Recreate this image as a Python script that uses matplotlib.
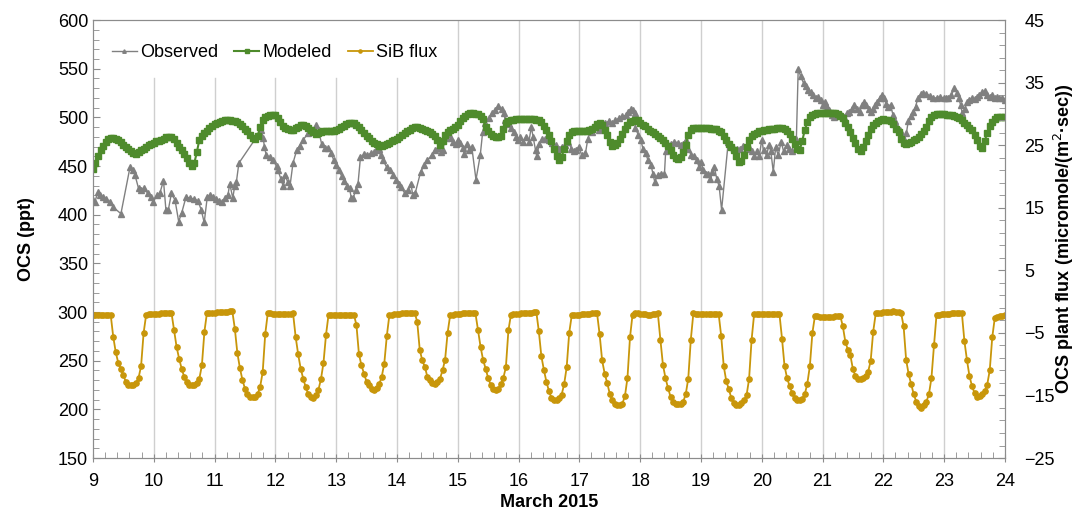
import numpy as np
import matplotlib
matplotlib.use("Agg")
import matplotlib.pyplot as plt
from matplotlib.ticker import MultipleLocator, FixedLocator

plt.rcParams['font.family'] = ['Liberation Sans', 'DejaVu Sans']

# hourly model output, one list per day (hours 0..23), March 2015
modeled_09 = [447, 453, 460, 466, 471, 475, 478, 479, 479, 478, 477, 475, 472, 470, 467, 465, 463, 462, 464, 466, 468, 470, 472, 473]
modeled_10 = [474, 475.5, 476, 477, 478, 479.5, 480, 480, 478, 474, 470, 466, 462, 458, 453, 450, 453, 464, 477, 481, 484, 486, 489, 491]
modeled_11 = [493, 494.5, 495.5, 496.5, 497, 497, 497, 496.5, 496, 495, 493.5, 491, 488.5, 486, 482, 479, 477.5, 481, 490, 497, 500, 501, 502, 502]
modeled_12 = [502, 499.5, 495, 491, 489, 488, 487, 487, 489, 490.5, 492, 492, 491, 489, 487, 484.5, 483, 483.5, 485, 486, 486.3, 486.3, 486.3, 486.5]
modeled_13 = [487, 488.5, 490, 491.5, 493, 494, 494.5, 494, 492.5, 490.5, 487, 484, 481, 478.5, 476, 474, 472.5, 470.5, 470.5, 471.5, 472.5, 474, 475.5, 477]
modeled_14 = [478, 480, 481.5, 483.5, 485.5, 487.5, 489, 490, 490, 489, 488.5, 487, 486, 484.5, 483, 481, 477, 472, 476, 482, 485, 487, 488.5, 490]
modeled_15 = [492.5, 496, 499, 501, 503, 504, 504, 503.5, 503, 501.5, 498, 490.5, 486, 483, 481, 480, 480, 481, 488, 494, 496.5, 497.2, 497.5, 498]
modeled_16 = [498, 498, 498, 498, 498, 498, 498, 497.5, 497, 495, 491.5, 487, 482, 476, 468, 460, 456, 459, 468, 476, 481.5, 485, 485.5, 486]
modeled_17 = [486, 486, 486, 486.5, 487, 488.5, 490.5, 493, 494.5, 492, 487, 481.5, 475, 471, 471.5, 474, 477.5, 482.5, 488, 492.5, 495, 496.5, 497.2, 497]
modeled_18 = [494.5, 492, 490.8, 488.5, 486.5, 484.5, 483, 481, 479, 477, 473.5, 471, 466, 461, 458, 456.8, 459, 464, 472, 481.5, 487, 489, 489.3, 489.3]
modeled_19 = [489.3, 489.3, 489, 488.6, 488.2, 488, 487.6, 486.5, 484.5, 481, 477, 473, 469.5, 466, 460, 454.4, 455.5, 461, 470, 477, 480.8, 483, 484.2, 485.5]
modeled_20 = [486.3, 486.8, 487.2, 487.6, 488, 488.5, 489, 489.3, 489.3, 488.3, 486.5, 483, 478, 473, 468, 466.5, 476, 487, 495, 500, 502.5, 503.5, 504, 504]
modeled_21 = [504, 504, 504, 504, 504, 504, 503.5, 501.5, 499, 494.5, 490.5, 485, 479, 473.5, 467.5, 465.5, 469.5, 475.5, 482, 488.5, 492, 494, 496, 497.3]
modeled_22 = [497.9, 497.6, 497.2, 496, 493, 488.5, 485, 477.5, 474, 472.2, 473.5, 475, 476.5, 478, 480, 482.5, 486, 490, 496, 500.5, 502.5, 503.5, 503.7, 503.4]
modeled_23 = [503, 502.8, 502.5, 502, 501.5, 500.6, 499, 497, 494.5, 492, 489.5, 487, 482, 476.6, 470.5, 469, 476, 483.5, 491, 495.5, 498.5, 500, 500.6, 500.6]
modeled_end = [500.6]

# hourly SiB plant flux (micromole/(m2 sec)), one list per day
sib_09 = [-2.1, -2.1, -2.1, -2.1, -2.1, -2.1, -2.1, -2.1, -5.6, -8.1, -9.8, -10.7, -11.8, -12.8, -13.3, -13.4, -13.3, -13.0, -12.2, -10.3, -5.0, -2.1, -2.0, -2.0]
sib_10 = [-2.0, -2.0, -2.0, -1.9, -1.9, -1.9, -1.9, -1.8, -4.5, -7.2, -9.1, -10.7, -12.0, -12.8, -13.3, -13.4, -13.4, -13.0, -12.3, -10.2, -4.8, -1.8, -1.8, -1.8]
sib_11 = [-1.8, -1.7, -1.7, -1.7, -1.6, -1.6, -1.5, -1.5, -4.3, -8.2, -10.6, -12.5, -13.9, -14.8, -15.2, -15.3, -15.2, -14.8, -13.6, -11.3, -5.2, -1.9, -1.9, -2.0]
sib_12 = [-2.0, -2.0, -2.0, -2.0, -2.0, -2.0, -2.0, -1.9, -5.6, -8.4, -10.7, -12.3, -13.7, -14.8, -15.3, -15.4, -15.0, -14.1, -12.4, -9.8, -5.3, -2.1, -2.1, -2.1]
sib_13 = [-2.1, -2.1, -2.1, -2.1, -2.1, -2.1, -2.1, -2.1, -3.7, -8.4, -10.2, -11.5, -12.8, -13.4, -14.0, -14.1, -13.8, -13.2, -12.0, -9.9, -5.5, -2.2, -2.1, -2.0]
sib_14 = [-2.0, -2.0, -1.9, -1.9, -1.9, -1.8, -1.8, -1.8, -3.2, -7.7, -9.4, -10.4, -12.0, -12.6, -13.0, -13.2, -12.9, -12.3, -11.0, -9.3, -5.0, -2.2, -2.1, -2.0]
sib_15 = [-2.0, -2.0, -1.9, -1.9, -1.9, -1.9, -1.9, -1.9, -4.6, -7.2, -9.3, -10.7, -12.2, -13.3, -14.0, -14.1, -13.9, -13.2, -12.2, -10.5, -4.6, -2.1, -2.0, -2.0]
sib_16 = [-2.0, -1.9, -1.9, -1.9, -1.8, -1.8, -1.7, -1.6, -4.7, -8.7, -10.9, -12.8, -14.3, -15.4, -15.8, -15.8, -15.4, -14.9, -13.2, -10.5, -5.0, -2.2, -2.1, -2.1]
sib_17 = [-2.1, -2.0, -2.0, -2.0, -2.0, -1.9, -1.9, -1.9, -5.2, -9.4, -11.5, -13.0, -14.7, -15.8, -16.3, -16.5, -16.5, -16.3, -15.1, -12.2, -5.7, -2.1, -1.9, -1.9]
sib_18 = [-2.0, -2.0, -2.0, -2.1, -2.1, -2.0, -2.0, -1.9, -6.1, -10.1, -12.2, -13.8, -15.2, -16.0, -16.3, -16.4, -16.3, -16.0, -14.8, -12.3, -6.1, -1.9, -2.0, -2.0]
sib_19 = [-2.0, -2.0, -2.0, -2.0, -2.0, -2.0, -2.0, -2.0, -5.5, -10.3, -12.7, -14.0, -15.4, -16.2, -16.5, -16.5, -16.2, -15.8, -15.0, -12.4, -6.1, -2.0, -2.0, -2.0]
sib_20 = [-2.0, -2.0, -2.0, -2.0, -2.0, -2.0, -2.0, -2.0, -5.9, -10.3, -12.2, -13.5, -14.6, -15.4, -15.8, -15.7, -15.5, -14.8, -13.1, -10.3, -5.0, -2.3, -2.3, -2.4]
sib_21 = [-2.4, -2.4, -2.4, -2.4, -2.4, -2.3, -2.3, -2.3, -3.9, -6.4, -7.7, -8.6, -10.8, -11.9, -12.4, -12.4, -12.2, -11.9, -11.2, -9.5, -4.8, -1.9, -1.8, -1.8]
sib_22 = [-1.7, -1.7, -1.6, -1.6, -1.5, -1.6, -1.7, -1.8, -3.9, -9.3, -11.6, -13.2, -14.8, -16.0, -16.7, -17.0, -16.6, -16.0, -14.8, -12.2, -7.0, -2.1, -2.1, -2.0]
sib_23 = [-2.0, -2.0, -2.0, -1.9, -1.9, -1.9, -1.8, -1.8, -6.3, -9.3, -11.9, -13.5, -14.6, -15.2, -15.1, -14.7, -14.3, -13.3, -11.0, -5.7, -2.6, -2.4, -2.3, -2.3]
sib_end = [-2.2]

# observed OCS, irregular sampling (day of March, ppt)
obs_day = [9.00, 9.03, 9.08, 9.12, 9.17, 9.22, 9.28, 9.33, 9.46, 9.61, 9.66, 9.69, 9.75, 9.79, 9.84, 9.90, 9.95, 9.99,
           10.05, 10.10, 10.16, 10.20, 10.24, 10.29, 10.35, 10.41, 10.46, 10.53, 10.60, 10.67, 10.73, 10.78, 10.83, 10.88, 10.93, 10.98,
           11.03, 11.08, 11.13, 11.17, 11.22, 11.25, 11.30, 11.33, 11.36, 11.40, 11.77, 11.80, 11.82, 11.85, 11.91, 11.96,
           12.02, 12.04, 12.09, 12.13, 12.16, 12.20, 12.24, 12.29, 12.35, 12.40, 12.46, 12.54, 12.62, 12.67, 12.71, 12.76, 12.81, 12.87, 12.92, 12.96,
           13.00, 13.04, 13.09, 13.13, 13.18, 13.22, 13.25, 13.28, 13.32, 13.36, 13.40, 13.46, 13.51, 13.57, 13.62, 13.66, 13.70, 13.73, 13.77, 13.83, 13.88, 13.94, 13.99,
           14.03, 14.07, 14.13, 14.18, 14.23, 14.26, 14.30, 14.39, 14.45, 14.50, 14.57, 14.62, 14.68, 14.73, 14.75, 14.80, 14.84, 14.89, 14.93, 14.97,
           15.00, 15.04, 15.08, 15.11, 15.15, 15.19, 15.23, 15.30, 15.37, 15.41, 15.45, 15.51, 15.56, 15.62, 15.67, 15.72, 15.76, 15.78, 15.84, 15.88, 15.92, 15.96, 15.99,
           16.03, 16.08, 16.12, 16.17, 16.21, 16.24, 16.28, 16.30, 16.34, 16.39, 16.44, 16.50, 16.55, 16.61, 16.66, 16.71, 16.77, 16.82, 16.87, 16.91, 16.95, 16.99,
           17.04, 17.10, 17.14, 17.18, 17.21, 17.26, 17.32, 17.37, 17.43, 17.48, 17.54, 17.59, 17.65, 17.70, 17.76, 17.80, 17.85, 17.88, 17.91, 17.92, 17.97,
           18.01, 18.05, 18.09, 18.13, 18.18, 18.21, 18.24, 18.29, 18.34, 18.40, 18.42, 18.46, 18.51, 18.56, 18.62, 18.67, 18.71, 18.75, 18.79, 18.84, 18.89, 18.93, 18.97,
           19.00, 19.04, 19.08, 19.12, 19.15, 19.19, 19.22, 19.26, 19.30, 19.34, 19.45, 19.48, 19.53, 19.59, 19.64, 19.70, 19.75, 19.81, 19.84, 19.88, 19.92, 19.96,
           20.00, 20.03, 20.08, 20.12, 20.15, 20.19, 20.23, 20.27, 20.32, 20.36, 20.41, 20.45, 20.49, 20.54, 20.57, 20.60, 20.64, 20.69, 20.72, 20.76, 20.81, 20.85, 20.89, 20.93, 20.97,
           21.00, 21.04, 21.07, 21.11, 21.15, 21.19, 21.25, 21.30, 21.35, 21.40, 21.44, 21.48, 21.52, 21.57, 21.61, 21.65, 21.68, 21.72, 21.76, 21.79, 21.83, 21.87, 21.90, 21.94, 21.98,
           22.01, 22.05, 22.08, 22.12, 22.16, 22.20, 22.23, 22.27, 22.31, 22.34, 22.38, 22.41, 22.45, 22.49, 22.53, 22.57, 22.62, 22.66, 22.71, 22.77, 22.82, 22.88, 22.93, 22.99,
           23.03, 23.07, 23.12, 23.17, 23.21, 23.24, 23.27, 23.30, 23.34, 23.38, 23.41, 23.46, 23.50, 23.54, 23.58, 23.62, 23.67, 23.71, 23.75, 23.79, 23.83, 23.87, 23.91, 23.96, 24.00]
obs_ppt = [415, 413, 423, 420, 418, 416, 413, 408, 401, 449, 446, 441, 427, 425, 427, 422, 418, 413,
           420, 422, 435, 405, 405, 422, 415, 393, 402, 418, 417, 416, 414, 405, 392, 418, 420, 418,
           416, 414, 413, 417, 420, 432, 417, 429, 434, 453, 487, 479, 470, 461, 459, 456,
           450, 446, 437, 429, 441, 434, 429, 453, 466, 471, 477, 484, 487, 492, 487, 473, 469, 469, 463, 456,
           451, 446, 440, 435, 430, 427, 417, 417, 425, 432, 459, 462, 461, 463, 464, 466, 467, 461, 456, 449, 446, 441, 436,
           432, 428, 422, 425, 432, 420, 422, 444, 451, 456, 461, 466, 469, 464, 466, 479, 483, 479, 475, 473,
           477, 474, 469, 462, 473, 466, 470, 436, 461, 485, 494, 499, 504, 508, 512, 509, 504, 497, 493, 489, 485, 480, 477,
           480, 475, 480, 475, 490, 480, 466, 460, 473, 478, 478, 477, 474, 472, 468, 470, 472, 475, 468, 465, 466, 470,
           461, 463, 478, 486, 485, 490, 487, 490, 494, 496, 494, 497, 499, 501, 502, 506, 509, 508, 504, 489, 482,
           477, 467, 463, 456, 451, 442, 434, 441, 442, 442, 465, 472, 473, 475, 474, 472, 473, 477, 468, 461, 460, 456, 449,
           454, 446, 442, 442, 437, 444, 449, 437, 429, 405, 475, 472, 470, 468, 468, 471, 469, 467, 465, 460, 465, 460,
           477, 466, 461, 472, 465, 444, 470, 461, 475, 465, 472, 468, 465, 475, 478, 550, 542, 535, 532, 528, 526, 523, 520, 521, 518,
           513, 516, 511, 508, 502, 500, 502, 502, 500, 504, 506, 509, 513, 509, 506, 513, 516, 513, 509, 506, 509, 513, 516, 520, 523,
           520, 514, 511, 513, 502, 496, 490, 487, 482, 478, 484, 496, 501, 506, 511, 520, 524, 525, 524, 522, 520, 520, 521, 520,
           520, 520, 523, 530, 525, 520, 513, 504, 509, 516, 518, 520, 519, 521, 523, 526, 527, 523, 521, 523, 520, 521, 520, 520, 518]

modeled_ppt = (modeled_09 + modeled_10 + modeled_11 + modeled_12 + modeled_13 + modeled_14 + modeled_15 + modeled_16
               + modeled_17 + modeled_18 + modeled_19 + modeled_20 + modeled_21 + modeled_22 + modeled_23 + modeled_end)
sib_flux = (sib_09 + sib_10 + sib_11 + sib_12 + sib_13 + sib_14 + sib_15 + sib_16
            + sib_17 + sib_18 + sib_19 + sib_20 + sib_21 + sib_22 + sib_23 + sib_end)
hour_day = 9 + np.arange(len(modeled_ppt)) / 24.0

spine_gray = '#8c8c8c'

fig = plt.figure(figsize=(10.91, 5.14), dpi=100)
ax = fig.add_axes([0.0852, 0.1089, 0.8359, 0.8521])
ax2 = ax.twinx()

ax.plot(obs_day, obs_ppt, color='#808080', lw=1.0, marker='^', ms=4.2, label='Observed')
ax.plot(hour_day, modeled_ppt, color='#4e8b2c', lw=1.5, marker='s', ms=3.8, label='Modeled')
ax2.plot(hour_day, sib_flux, color='#c8960a', lw=1.3, marker='o', ms=3.8, label='SiB flux')

ax.set_xlim(9, 24)
ax.set_ylim(150, 600)
ax2.set_ylim(-25, 45)

ax.set_xticks(range(9, 25))
ax.xaxis.set_minor_locator(MultipleLocator(0.2))
ax.set_yticks(range(150, 601, 50))
ax.yaxis.set_minor_locator(MultipleLocator(10))
ax2.set_yticks(range(-25, 46, 10))
ax2.yaxis.set_minor_locator(FixedLocator(np.arange(-25, 46, 2)))

# vertical day grid; the lines under the legend stop below it
for d in range(10, 24):
    ax.axvline(d, ymin=0, ymax=0.868 if d <= 14 else 1.0, color='#cfcfcf', lw=1.0, zorder=0.5)

for a in (ax, ax2):
    for s in a.spines.values():
        s.set_color(spine_gray)
ax.tick_params(axis='x', which='major', direction='inout', length=6, color=spine_gray, labelsize=13, pad=8)
ax.tick_params(axis='x', which='minor', direction='in', length=4, color=spine_gray)
ax.tick_params(axis='y', which='both', direction='in', color=spine_gray, labelsize=13)
ax.tick_params(axis='y', which='major', length=5)
ax.tick_params(axis='y', which='minor', length=4)
ax2.tick_params(axis='y', which='both', direction='in', color=spine_gray, labelsize=13, pad=14)
ax2.tick_params(axis='y', which='major', length=5)
ax2.tick_params(axis='y', which='minor', length=4)

ax.set_xlabel('March 2015', fontsize=13, fontweight='bold', labelpad=3)
ax.set_ylabel('OCS (ppt)', fontsize=13, fontweight='bold', labelpad=16)
ax2.set_ylabel('OCS plant flux (micromole/(m$^2$·sec))', fontsize=13, fontweight='bold', labelpad=-2)

h1, l1 = ax.get_legend_handles_labels()
h2, l2 = ax2.get_legend_handles_labels()
leg = ax2.legend(h1 + h2, l1 + l2, loc='upper left', bbox_to_anchor=(-0.006, 1.0), ncol=3, fontsize=13,
                 frameon=False, markerscale=0.6, handlelength=1.4, handletextpad=0.15, columnspacing=0.9,
                 borderpad=1.35, borderaxespad=0.0)

fig.savefig('out.png', dpi=100)
